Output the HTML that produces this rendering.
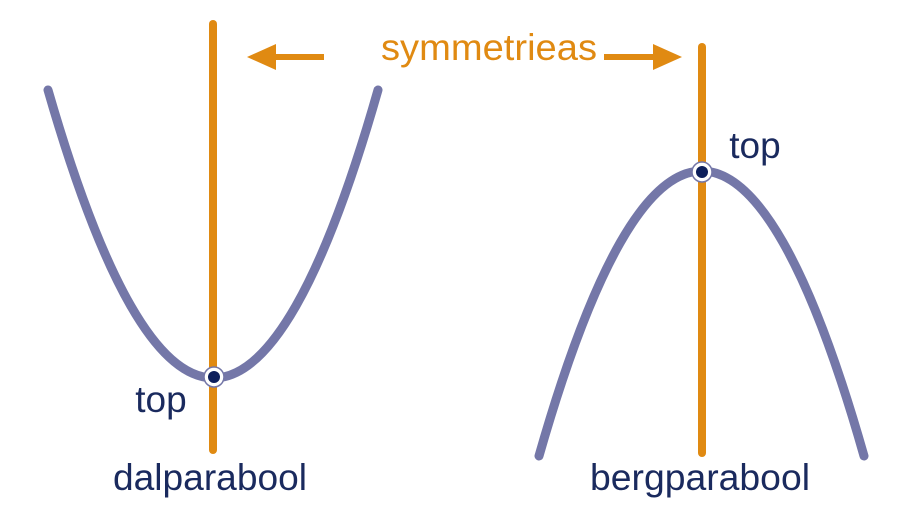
<!DOCTYPE html>
<html><head><meta charset="utf-8"><style>
html,body{margin:0;padding:0;background:#fff;width:902px;height:524px;overflow:hidden}
</style></head><body>
<svg width="902" height="524" viewBox="0 0 902 524" xmlns="http://www.w3.org/2000/svg">
<g fill="none" stroke-linecap="round">
<line x1="213" y1="24" x2="213" y2="450" stroke="#e08a12" stroke-width="8"/>
<line x1="702" y1="47" x2="702" y2="453" stroke="#e08a12" stroke-width="8"/>
<path d="M48 90 Q214 666 378 90" stroke="#7477a8" stroke-width="9"/>
<path d="M539 456 Q702 -114 864 456" stroke="#7477a8" stroke-width="9"/>
<line x1="324" y1="57" x2="270" y2="57" stroke="#e08a12" stroke-width="6" stroke-linecap="butt"/>
<line x1="604" y1="57" x2="656" y2="57" stroke="#e08a12" stroke-width="6" stroke-linecap="butt"/>
</g>
<polygon points="247,57 276,44 276,70" fill="#e08a12"/>
<polygon points="682,57 653,44 653,70" fill="#e08a12"/>
<circle cx="214" cy="377" r="10" fill="#fff" stroke="#7477a8" stroke-width="1.5"/>
<circle cx="214" cy="377" r="6" fill="#0d1f5c"/>
<circle cx="702" cy="172" r="10" fill="#fff" stroke="#7477a8" stroke-width="1.5"/>
<circle cx="702" cy="172" r="6" fill="#0d1f5c"/>
<g font-family="Liberation Sans, sans-serif" font-size="37">
<text x="489" y="60" text-anchor="middle" fill="#e08a12" textLength="216" lengthAdjust="spacingAndGlyphs">symmetrieas</text>
<text x="161" y="412" text-anchor="middle" fill="#1a2a5e">top</text>
<text x="755" y="158" text-anchor="middle" fill="#1a2a5e">top</text>
<text x="210" y="490" text-anchor="middle" fill="#1a2a5e" textLength="194" lengthAdjust="spacingAndGlyphs">dalparabool</text>
<text x="700" y="490" text-anchor="middle" fill="#1a2a5e" textLength="220" lengthAdjust="spacingAndGlyphs">bergparabool</text>
</g>
</svg>
</body></html>
